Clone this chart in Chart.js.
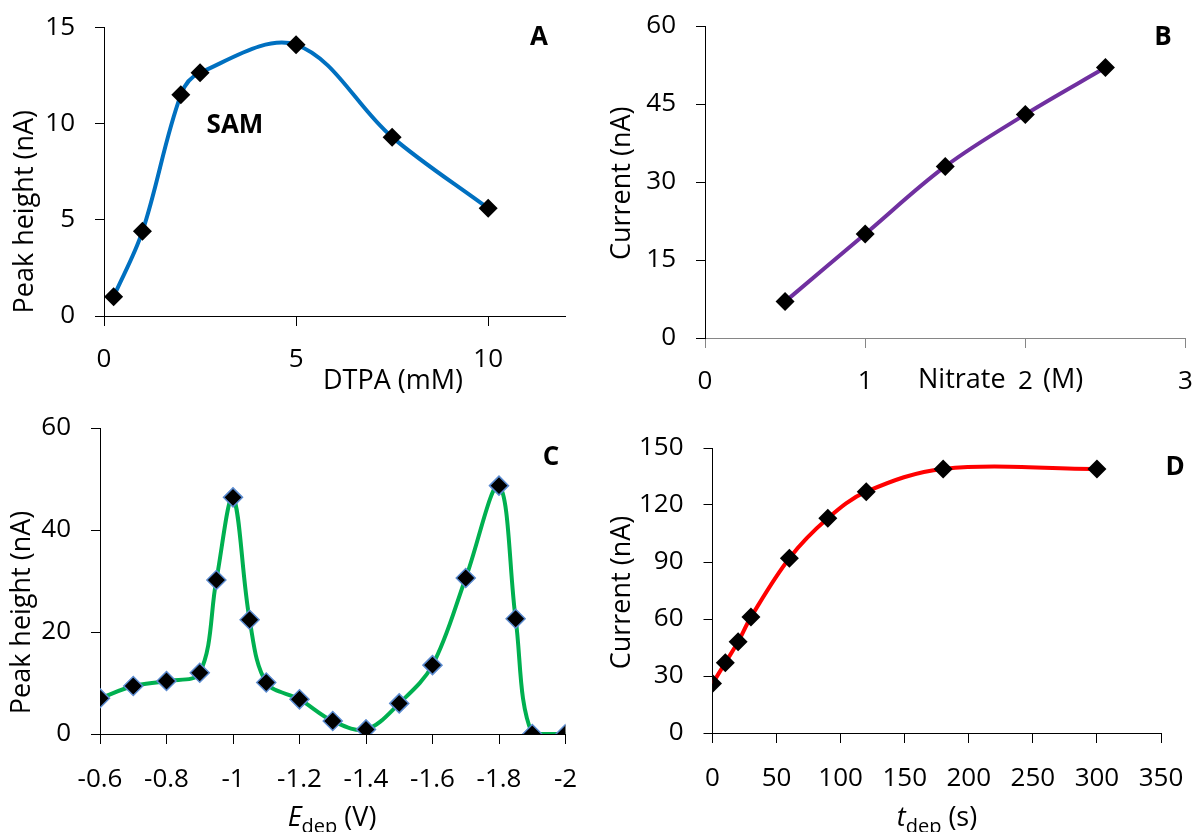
<!DOCTYPE html>
<html>
<head>
<meta charset="utf-8">
<script src="https://cdn.jsdelivr.net/npm/chart.js@4.4.1/dist/chart.umd.min.js"></script>
<style>
  html, body { margin: 0; padding: 0; background: #fff; }
  #wrap { position: relative; width: 1195px; height: 832px; overflow: hidden; background: #fff; }
  #wrap canvas { position: absolute; }
</style>
</head>
<body>
<div id="wrap">
  <canvas id="panelA"></canvas>
  <canvas id="panelB"></canvas>
  <canvas id="panelC"></canvas>
  <canvas id="panelD"></canvas>
</div>
<script>
// ---- Panel A: peak height vs DTPA concentration ----
const dtpaConc = [0.25, 1, 2, 2.5, 5, 7.5, 10];
const dtpaPeak = [1.0, 4.4, 11.5, 12.65, 14.1, 9.3, 5.6];
const dtpaTicksX = [0, 5, 10];
const dtpaTicksY = [0, 5, 10, 15];

// ---- Panel B: current vs nitrate concentration ----
const nitrateConc = [0.5, 1, 1.5, 2, 2.5];
const nitrateCurrent = [7, 20, 33, 43, 52];
const nitrateTicksX = [0, 1, 2, 3];
const nitrateTicksY = [0, 15, 30, 45, 60];

// ---- Panel C: peak height vs deposition potential ----
const depPotential = [-0.6, -0.7, -0.8, -0.9, -0.95, -1.0, -1.05, -1.1, -1.2, -1.3, -1.4, -1.5, -1.6, -1.7, -1.8, -1.85, -1.9, -2.0];
const potentialPeak = [7.0, 9.4, 10.4, 12.0, 30.2, 46.4, 22.4, 10.1, 6.8, 2.55, 0.9, 6.0, 13.5, 30.6, 48.7, 22.6, 0, 0];
const potentialTicksX = [-0.6, -0.8, -1.0, -1.2, -1.4, -1.6, -1.8, -2.0];
const potentialTicksY = [0, 20, 40, 60];

// ---- Panel D: current vs deposition time ----
const depTime = [0, 10, 20, 30, 60, 90, 120, 180, 300];
const timeCurrent = [26, 37, 48, 61, 92, 113, 127, 139, 139];
const timeTicksX = [0, 50, 100, 150, 200, 250, 300, 350];
const timeTicksY = [0, 30, 60, 90, 120, 150];

const FONT = "'Open Sans', 'Noto Sans', 'DejaVu Sans', sans-serif";

// Draws axis titles and panel letters; each item is a row of text runs
const panelText = {
  id: 'panelText',
  afterDraw(chart, _args, opts) {
    const ctx = chart.ctx;
    const off = opts.offset || { x: 0, y: 0 };
    const fontOf = r => `${r.italic ? 'italic ' : ''}${r.bold ? 'bold ' : ''}${r.size}px ${FONT}`;
    for (const item of opts.items || []) {
      ctx.save();
      ctx.translate(item.x - off.x, item.y - off.y);
      if (item.rotate) ctx.rotate(-Math.PI / 2);
      ctx.fillStyle = '#000';
      ctx.textBaseline = 'alphabetic';
      ctx.textAlign = 'left';
      let total = 0;
      const widths = item.runs.map(r => {
        ctx.font = fontOf(r);
        const w = ctx.measureText(r.text).width;
        total += w;
        return w;
      });
      let cx = item.align === 'left' ? 0 : item.align === 'right' ? -total : -total / 2;
      item.runs.forEach((r, i) => {
        ctx.font = fontOf(r);
        ctx.fillText(r.text, cx, r.dy || 0);
        cx += widths[i];
      });
      ctx.restore();
    }
  }
};

function buildPanel(p) {
  const cv = document.getElementById(p.id);
  const b = p.box, a = p.area;
  Object.assign(cv.style, { left: b.x + 'px', top: b.y + 'px', width: b.w + 'px', height: b.h + 'px' });
  cv.width = b.w;
  cv.height = b.h;
  const tickFont = { family: FONT, size: 26 };
  const points = p.xs.map((x, i) => ({ x, y: p.ys[i] }));
  return new Chart(cv, {
    type: 'line',
    data: {
      datasets: [{
        data: points,
        borderColor: p.color,
        borderWidth: 4,
        tension: p.tension,
        fill: false,
        pointStyle: 'rectRot',
        pointRadius: 9.5,
        pointHoverRadius: 9.5,
        pointBackgroundColor: '#000',
        pointBorderColor: p.markerEdge || '#000',
        pointBorderWidth: p.markerEdge ? 1.5 : 0
      }]
    },
    options: {
      responsive: false,
      animation: false,
      devicePixelRatio: 1,
      events: [],
      layout: { padding: { left: 0, top: a.t - b.y, right: b.x + b.w - a.r, bottom: 0 } },
      plugins: {
        legend: { display: false },
        tooltip: { enabled: false },
        panelText: { offset: { x: b.x, y: b.y }, items: p.texts }
      },
      scales: {
        x: {
          type: 'linear',
          position: 'bottom',
          min: p.xMin,
          max: p.xMax,
          reverse: !!p.xReverse,
          afterBuildTicks: s => { s.ticks = p.xTicks.map(v => ({ value: v })); },
          afterFit: s => { s.height = b.y + b.h - a.b; s.paddingLeft = 0; s.paddingRight = 0; },
          grid: { drawOnChartArea: false, drawTicks: true, tickLength: 10, color: p.xAxisColor || '#000', lineWidth: 1 },
          border: { display: true, color: p.xAxisColor || '#000', width: 1 },
          ticks: { color: '#000', font: tickFont, padding: p.xPad, maxRotation: 0, minRotation: 0, autoSkip: false, callback: v => String(v) }
        },
        y: {
          type: 'linear',
          position: 'left',
          min: p.yMin,
          max: p.yMax,
          afterBuildTicks: s => { s.ticks = p.yTicks.map(v => ({ value: v })); },
          afterFit: s => { s.width = a.l - b.x; s.paddingTop = 0; s.paddingBottom = 0; },
          grid: { drawOnChartArea: false, drawTicks: true, tickLength: 9, color: '#000', lineWidth: 1 },
          border: { display: true, color: '#000', width: 1 },
          ticks: { color: '#000', font: tickFont, padding: 20, autoSkip: false, callback: v => String(v) }
        }
      }
    },
    plugins: [panelText]
  });
}

buildPanel({
  id: 'panelA',
  box: { x: 0, y: 0, w: 590, h: 405 },
  area: { l: 104, t: 27.5, r: 565, b: 316 },
  xs: dtpaConc, ys: dtpaPeak, color: '#0070C0', tension: 0.35,
  xMin: 0, xMax: 12, xTicks: dtpaTicksX, yMin: 0, yMax: 15, yTicks: dtpaTicksY, xPad: 18,
  texts: [
    { x: 32.5, y: 211.7, rotate: true, runs: [{ text: 'Peak height (nA)', size: 27 }] },
    { x: 393, y: 389, runs: [{ text: 'DTPA (mM)', size: 27 }] },
    { x: 235, y: 133, runs: [{ text: 'SAM', size: 26, bold: true }] },
    { x: 539, y: 45, runs: [{ text: 'A', size: 26, bold: true }] }
  ]
});

buildPanel({
  id: 'panelB',
  box: { x: 590, y: 0, w: 605, h: 405 },
  area: { l: 705, t: 26, r: 1187, b: 338 },
  xs: nitrateConc, ys: nitrateCurrent, color: '#7030A0', tension: 0.35,
  xMin: 0, xMax: 3, xTicks: nitrateTicksX, yMin: 0, yMax: 60, yTicks: nitrateTicksY, xPad: 18,
  xAxisColor: '#868686',
  texts: [
    { x: 629.8, y: 183.3, rotate: true, runs: [{ text: 'Current (nA)', size: 27 }] },
    { x: 918, y: 388, align: 'left', runs: [{ text: 'Nitrate', size: 27 }] },
    { x: 1043, y: 388, align: 'left', runs: [{ text: '(M)', size: 27 }] },
    { x: 1163, y: 45, runs: [{ text: 'B', size: 26, bold: true }] }
  ]
});

buildPanel({
  id: 'panelC',
  box: { x: 0, y: 405, w: 590, h: 427 },
  area: { l: 100, t: 428, r: 565.5, b: 734 },
  xs: depPotential, ys: potentialPeak, color: '#00B050', tension: 0.35, markerEdge: '#5B8BD0',
  xMin: -2.0, xMax: -0.6, xReverse: true, xTicks: potentialTicksX, yMin: 0, yMax: 60, yTicks: potentialTicksY, xPad: 20,
  texts: [
    { x: 29.5, y: 612.5, rotate: true, runs: [{ text: 'Peak height (nA)', size: 27 }] },
    { x: 332, y: 826, runs: [{ text: 'E', size: 27, italic: true }, { text: 'dep', size: 20, dy: 7 }, { text: ' (V)', size: 27 }] },
    { x: 551, y: 465, runs: [{ text: 'C', size: 26, bold: true }] }
  ]
});

buildPanel({
  id: 'panelD',
  box: { x: 590, y: 405, w: 605, h: 427 },
  area: { l: 712.5, t: 448, r: 1161, b: 733 },
  xs: depTime, ys: timeCurrent, color: '#FF0000', tension: 0.35,
  xMin: 0, xMax: 350, xTicks: timeTicksX, yMin: 0, yMax: 150, yTicks: timeTicksY, xPad: 20,
  texts: [
    { x: 629.8, y: 592.5, rotate: true, runs: [{ text: 'Current (nA)', size: 27 }] },
    { x: 937, y: 826, runs: [{ text: 't', size: 27, italic: true }, { text: 'dep', size: 20, dy: 7 }, { text: ' (s)', size: 27 }] },
    { x: 1175, y: 475, runs: [{ text: 'D', size: 26, bold: true }] }
  ]
});
</script>
</body>
</html>
